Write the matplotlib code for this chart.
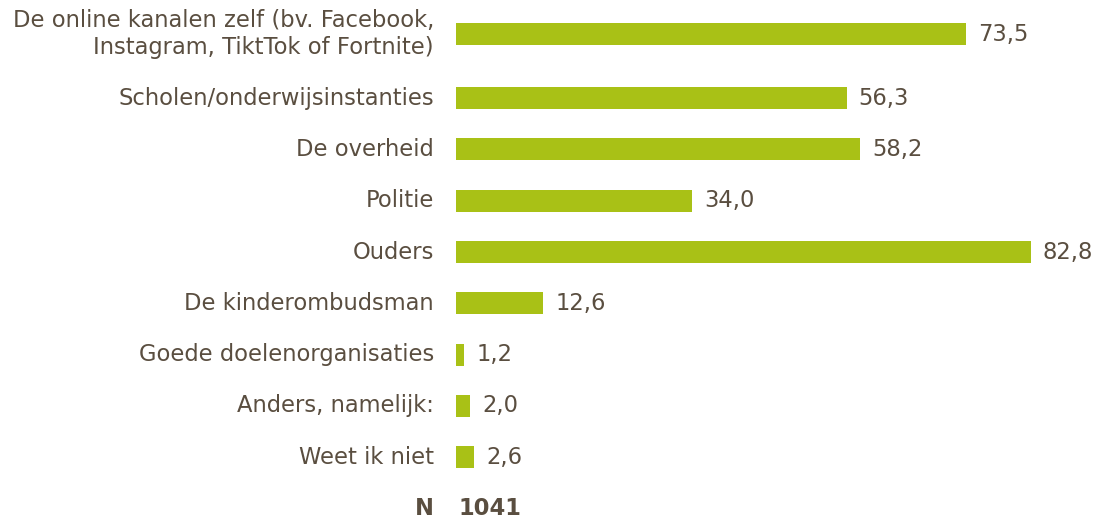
import matplotlib.pyplot as plt
import numpy as np

# data
labels = ['De online kanalen zelf (bv. Facebook,\nInstagram, TiktTok of Fortnite)',
          'Scholen/onderwijsinstanties',
          'De overheid',
          'Politie',
          'Ouders',
          'De kinderombudsman',
          'Goede doelenorganisaties',
          'Anders, namelijk:',
          'Weet ik niet']
values = [73.5, 56.3, 58.2, 34.0, 82.8, 12.6, 1.2, 2.0, 2.6]
n_total = 1041

bar_color = '#a9c116'
text_color = '#5a4e40'
fs = 16.3

# row positions (first row gets a bit more room for its two-line label)
pos = np.array([0] + [i + 0.25 for i in range(1, len(values))])
n_pos = pos[-1] + 1

fig = plt.figure(figsize=(10.97, 5.21), dpi=100)
ax = fig.add_axes([0, 0, 1, 1])

px = 6.94  # pixels per unit
ax.set_xlim(-456 / px, (1097 - 456) / px)
ax.set_ylim((521 - 34) / 51.3, -34 / 51.3)

ax.barh(pos, values, height=0.43, color=bar_color)

for p, lab, v in zip(pos, labels, values):
    ax.text(-22 / px, p, lab, ha='right', va='center', fontsize=fs,
            color=text_color, linespacing=1.2)
    ax.text(v + 12 / px, p, '{:.1f}'.format(v).replace('.', ','),
            ha='left', va='center', fontsize=fs, color=text_color)

ax.text(-22 / px, n_pos, 'N', ha='right', va='center', fontsize=fs,
        color=text_color, fontweight='bold')
ax.text(2 / px, n_pos, str(n_total), ha='left', va='center', fontsize=fs,
        color=text_color, fontweight='bold')

ax.axis('off')
fig.savefig('out.png', dpi=100)
